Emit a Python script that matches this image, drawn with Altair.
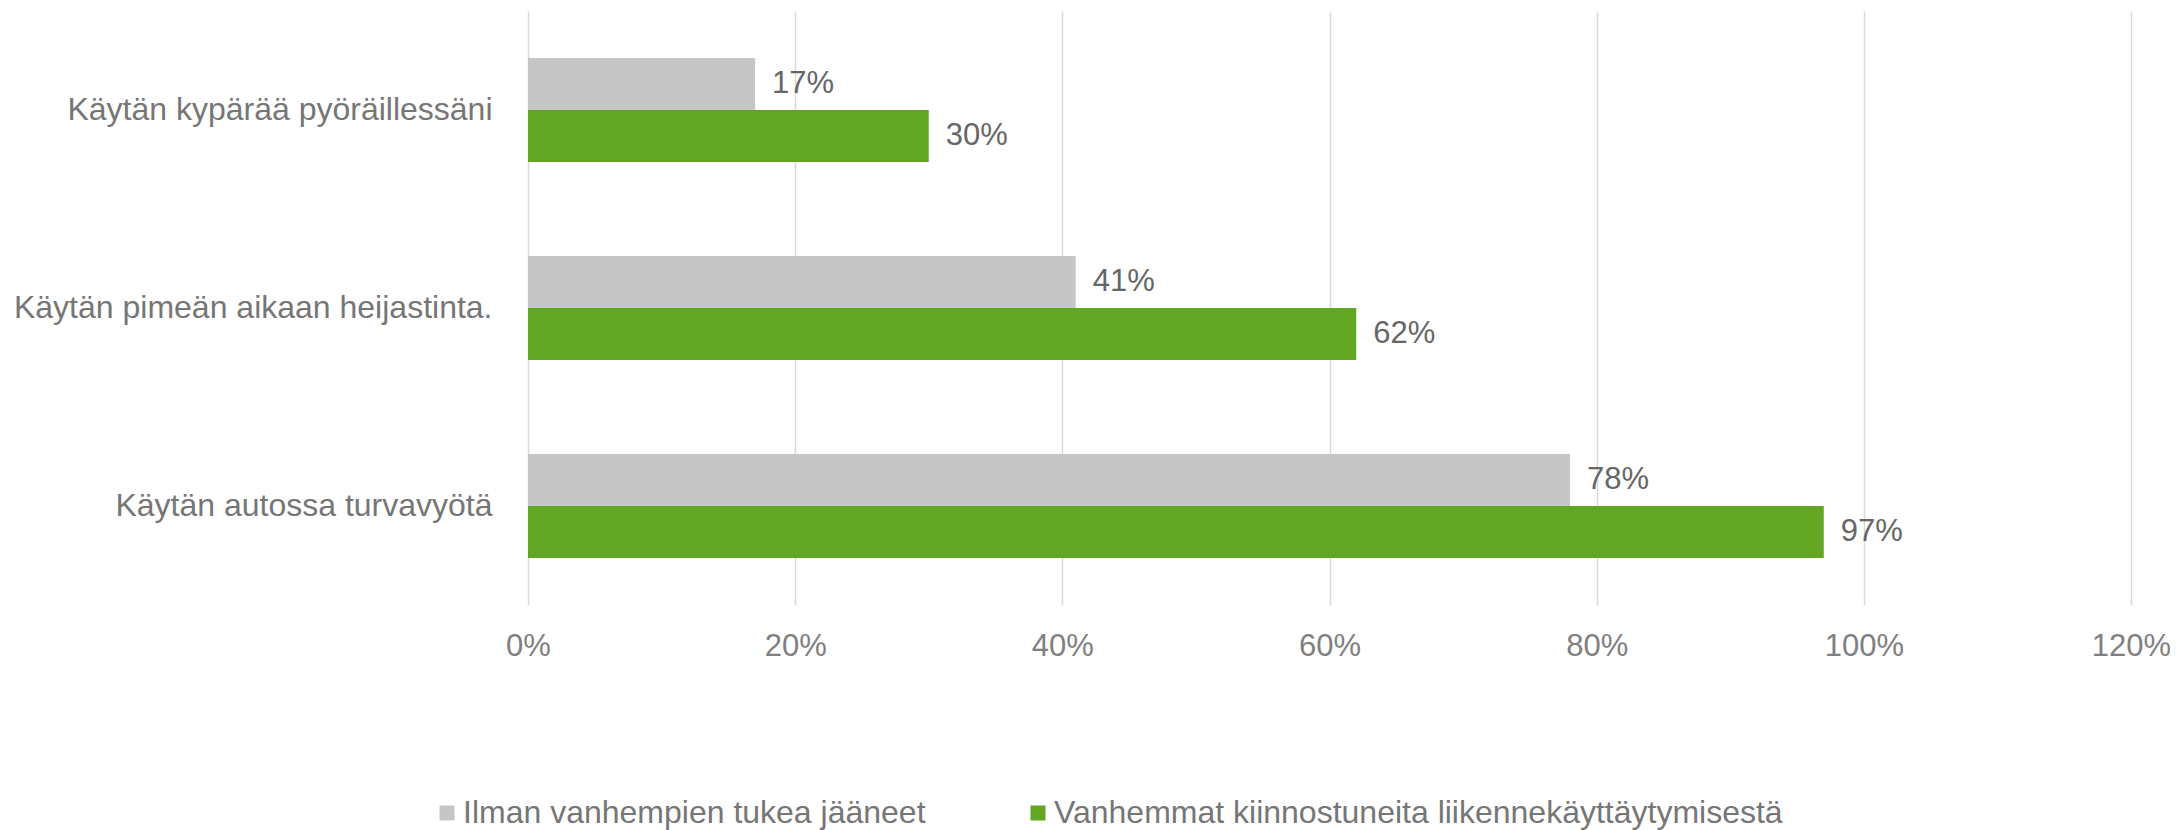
import altair as alt
import pandas as pd

categories = [
    "Käytän kypärää pyöräillessäni",
    "Käytän pimeän aikaan heijastinta.",
    "Käytän autossa turvavyötä",
]
series = [
    "Ilman vanhempien tukea jääneet",
    "Vanhemmat kiinnostuneita liikennekäyttäytymisestä",
]
values_ilman = [0.17, 0.41, 0.78]
values_vanhemmat = [0.30, 0.62, 0.97]
colors = ["#C6C6C6", "#63A623"]
x_ticks = [0, 0.2, 0.4, 0.6, 0.8, 1.0, 1.2]

rows = []
for s, vals in zip(series, [values_ilman, values_vanhemmat]):
    for c, v in zip(categories, vals):
        rows.append({"kategoria": c, "sarja": s, "arvo": v})
df = pd.DataFrame(rows)

FONT = "Liberation Sans"
FS = 32
FS_SMALL = 31

y_enc = alt.Y(
    "kategoria:N",
    sort=categories,
    title=None,
    scale=alt.Scale(paddingInner=0.474, paddingOuter=0.237),
    axis=alt.Axis(
        ticks=False, tickSize=0, domain=False, grid=False,
        labelPadding=36, labelFontSize=FS, labelFont=FONT,
        labelColor="#767676", labelLimit=800,
    ),
)
yoff_enc = alt.YOffset(
    "sarja:N", sort=series, scale=alt.Scale(paddingInner=0, paddingOuter=0)
)
x_enc = alt.X(
    "arvo:Q",
    title=None,
    scale=alt.Scale(domain=[0, 1.2], nice=False, zero=True),
    axis=alt.Axis(
        values=x_ticks, format=".0%", ticks=False, domain=False,
        grid=True, gridColor="#D9D9D9", gridWidth=1.5,
        labelPadding=26, labelFontSize=FS_SMALL, labelFont=FONT,
        labelColor="#808080", labelFlush=False,
    ),
)

bars = alt.Chart(df).mark_bar().encode(
    y=y_enc,
    yOffset=yoff_enc,
    x=x_enc,
    color=alt.Color(
        "sarja:N",
        sort=series,
        scale=alt.Scale(domain=series, range=colors),
        legend=alt.Legend(
            title=None, orient="none", direction="horizontal",
            legendX=-97, legendY=786, padding=0,
            symbolType="square", symbolSize=225, symbolStrokeWidth=0,
            symbolOpacity=1,
            labelFontSize=FS, labelFont=FONT, labelColor="#767676",
            labelOffset=0, columnPadding=96, labelLimit=1000,
        ),
    ),
)

labels = alt.Chart(df).mark_text(
    align="left", baseline="middle", dx=17, fontSize=FS_SMALL, font=FONT,
    color="#666666",
).encode(
    y=alt.Y("kategoria:N", sort=categories),
    yOffset=alt.YOffset("sarja:N", sort=series),
    x=alt.X("arvo:Q"),
    text=alt.Text("arvo:Q", format=".0%"),
)

chart = (
    alt.layer(bars, labels)
    .properties(
        width=1603,
        height=594,
        autosize=alt.AutoSizeParams(type="none"),
        padding={"left": 520, "top": 3, "right": 39, "bottom": 225},
    )
    .configure_view(stroke=None)
)

chart.save("out.html", embed_options={"renderer": "svg", "actions": False})
